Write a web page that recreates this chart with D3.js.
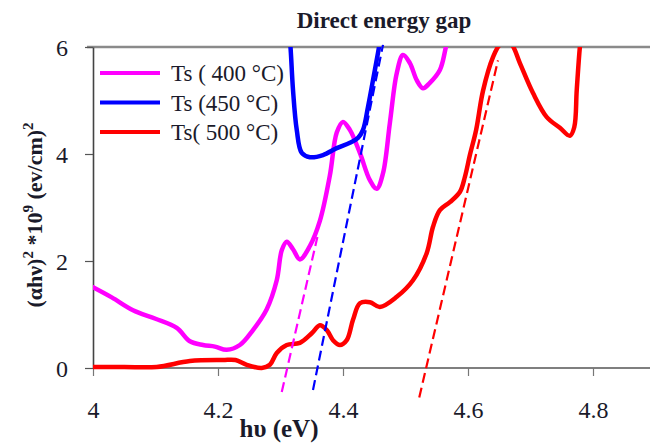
<!DOCTYPE html>
<html>
<head>
<meta charset="utf-8">
<script src="https://cdn.jsdelivr.net/npm/d3@7"></script>
<style>
  html, body { margin: 0; padding: 0; background: #fff; }
  svg { display: block; }
  svg text { font-family: "Liberation Serif", "DejaVu Serif", "Noto Serif", "Nimbus Roman", "FreeSerif", "Times New Roman", Times, serif; fill: #1a1a2a; }
</style>
</head>
<body>
<svg id="chart" width="650" height="443"></svg>
<script>
// Photon energy (eV) and (αhν)² ×10⁹ for each substrate temperature
const e400 = [4.000, 4.030, 4.064, 4.100, 4.134, 4.155, 4.176, 4.195, 4.214, 4.235, 4.256, 4.278, 4.294, 4.302, 4.310, 4.320, 4.331, 4.347, 4.363, 4.379, 4.390, 4.400, 4.411, 4.427, 4.443, 4.454, 4.464, 4.475, 4.486, 4.496, 4.507, 4.518, 4.528, 4.539, 4.555, 4.563, 4.570];
const a400 = [1.51, 1.32, 1.08, 0.92, 0.75, 0.50, 0.43, 0.40, 0.34, 0.43, 0.71, 1.10, 1.64, 2.20, 2.36, 2.22, 2.03, 2.28, 2.75, 3.60, 4.40, 4.60, 4.45, 4.02, 3.51, 3.35, 3.64, 4.58, 5.51, 5.85, 5.70, 5.38, 5.23, 5.33, 5.57, 5.91, 6.40];

const e450 = [4.313, 4.316, 4.320, 4.326, 4.334, 4.347, 4.368, 4.390, 4.411, 4.424, 4.432, 4.440, 4.448, 4.456, 4.462];
const a450 = [6.40, 6.00, 5.20, 4.45, 4.02, 3.94, 3.98, 4.11, 4.21, 4.30, 4.45, 4.88, 5.38, 5.89, 6.30];

const e500 = [4.000, 4.050, 4.102, 4.155, 4.208, 4.228, 4.246, 4.270, 4.283, 4.294, 4.310, 4.331, 4.350, 4.363, 4.374, 4.384, 4.395, 4.406, 4.416, 4.427, 4.443, 4.459, 4.486, 4.512, 4.534, 4.544, 4.555, 4.571, 4.587, 4.595, 4.603, 4.613, 4.624, 4.640, 4.651, 4.661, 4.670, 4.683, 4.704, 4.726, 4.747, 4.763, 4.770, 4.774, 4.779, 4.783];
const a500 = [0.02, 0.02, 0.02, 0.13, 0.15, 0.15, 0.06, 0.00, 0.06, 0.28, 0.43, 0.47, 0.65, 0.80, 0.71, 0.52, 0.43, 0.52, 0.90, 1.21, 1.23, 1.14, 1.33, 1.64, 2.15, 2.64, 2.95, 3.10, 3.29, 3.57, 3.98, 4.45, 5.18, 5.81, 6.04, 6.07, 6.04, 5.70, 5.14, 4.69, 4.49, 4.34, 4.50, 5.20, 6.00, 6.40];

// Linear extrapolations of the absorption edge (endpoints in eV and (αhν)²)
const fitE400 = [4.302, 4.359];
const fitA400 = [-0.45, 2.45];
const fitE450 = [4.352, 4.464];
const fitA450 = [-0.41, 6.04];
const fitE500 = [4.522, 4.648];
const fitA500 = [-0.55, 5.75];

const seriesNames = ["Ts ( 400 °C)", "Ts (450 °C)", "Ts( 500 °C)"];
const seriesColors = ["#ff00ff", "#0000ff", "#ff0000"];

const xTicks = [4, 4.2, 4.4, 4.6, 4.8];
const xTickLabels = ["4", "4.2", "4.4", "4.6", "4.8"];
const yTicks = [0, 2, 4, 6];
const yTickLabels = ["0", "2", "4", "6"];

const FONT = "'Liberation Serif', 'DejaVu Serif', 'Noto Serif', 'Nimbus Roman', FreeSerif, 'Times New Roman', Times, serif";

const svg = d3.select("#chart");
const plotLeft = 93, plotRight = 650, plotTop = 47, plotBottom = 368;

const x = d3.scaleLinear().domain([4, 4.888]).range([plotLeft, plotRight - 2]);
const y = d3.scaleLinear().domain([0, 6]).range([plotBottom, plotTop]);

svg.append("defs").append("clipPath").attr("id", "plotClip")
  .append("rect").attr("x", plotLeft).attr("y", plotTop)
  .attr("width", plotRight - plotLeft).attr("height", 443 - plotTop);

// Top frame line
svg.append("line")
  .attr("x1", plotLeft - 6).attr("x2", plotRight).attr("y1", y(6)).attr("y2", y(6))
  .attr("stroke", "#8a8a8a").attr("stroke-width", 2.5);

// Axes
const xAxis = d3.axisBottom(x).tickValues(xTicks)
  .tickFormat((d, i) => xTickLabels[i]).tickSize(8).tickSizeOuter(0);
const gx = svg.append("g").attr("transform", `translate(0,${plotBottom})`).call(xAxis)
  .attr("font-family", FONT);
gx.select(".domain").attr("stroke", "#555").attr("stroke-width", 1.6).attr("d", `M${plotLeft},0H${plotRight}`);
gx.selectAll(".tick line").attr("stroke", "#777").attr("stroke-width", 1.2);
gx.selectAll(".tick text").attr("font-size", 24).attr("dy", 0).attr("y", 50)
  .attr("font-family", FONT).attr("fill", "#1a1a2a");

const yAxis = d3.axisLeft(y).tickValues(yTicks)
  .tickFormat((d, i) => yTickLabels[i]).tickSize(8).tickSizeOuter(0);
const gy = svg.append("g").attr("transform", `translate(${plotLeft},0)`).call(yAxis)
  .attr("font-family", FONT);
gy.select(".domain").attr("stroke", "#444").attr("stroke-width", 1.6);
gy.selectAll(".tick line").attr("stroke", "#555").attr("stroke-width", 1.2);
gy.selectAll(".tick text").attr("font-size", 24).attr("x", -25).attr("dy", "0.35em")
  .attr("font-family", FONT).attr("fill", "#1a1a2a");

// Curves
const line = d3.line().x(d => x(d[0])).y(d => y(d[1])).curve(d3.curveCatmullRom.alpha(0.5));
const curves = [
  d3.zip(e400, a400),
  d3.zip(e450, a450),
  d3.zip(e500, a500)
];
const fits = [
  d3.zip(fitE400, fitA400),
  d3.zip(fitE450, fitA450),
  d3.zip(fitE500, fitA500)
];

const plot = svg.append("g").attr("clip-path", "url(#plotClip)");
curves.forEach((c, i) => {
  plot.append("path").datum(c)
    .attr("d", line).attr("fill", "none")
    .attr("stroke", seriesColors[i]).attr("stroke-width", 4.5)
    .attr("stroke-linejoin", "round").attr("stroke-linecap", "round");
});

const straight = d3.line().x(d => x(d[0])).y(d => y(d[1]));
fits.forEach((f, i) => {
  svg.append("path").datum(f)
    .attr("d", straight).attr("fill", "none")
    .attr("stroke", seriesColors[i]).attr("stroke-width", 2.2)
    .attr("stroke-dasharray", "10,5");
});

// Legend
const legend = svg.append("g").attr("font-family", FONT);
seriesNames.forEach((name, i) => {
  const ly = 73 + i * 29.5;
  legend.append("line").attr("x1", 100).attr("x2", 160).attr("y1", ly).attr("y2", ly)
    .attr("stroke", seriesColors[i]).attr("stroke-width", 4);
  legend.append("text").attr("x", 171).attr("y", ly + 8)
    .attr("font-size", 23).attr("font-family", FONT).text(name);
});

// Title
svg.append("text").attr("x", 384).attr("y", 28).attr("text-anchor", "middle")
  .attr("font-family", FONT)
  .attr("font-size", 23).attr("font-weight", "bold").text("Direct energy gap");

// Axis titles
svg.append("text").attr("x", 279).attr("y", 437).attr("text-anchor", "middle")
  .attr("font-family", FONT)
  .attr("font-size", 25).attr("font-weight", "bold").text("hυ (eV)");

const yl = svg.append("text")
  .attr("transform", "translate(42,215) rotate(-90)")
  .attr("font-family", FONT)
  .attr("text-anchor", "middle").attr("font-size", 22).attr("font-weight", "bold");
yl.append("tspan").text("(αhν)");
yl.append("tspan").attr("dy", -9).attr("font-size", 15).text("2");
yl.append("tspan").attr("dy", 9).text("  *10");
yl.append("tspan").attr("dy", -9).attr("font-size", 15).text("9");
yl.append("tspan").attr("dy", 9).text("  (ev/cm)");
yl.append("tspan").attr("dy", -9).attr("font-size", 15).text("2");
</script>
</body>
</html>
